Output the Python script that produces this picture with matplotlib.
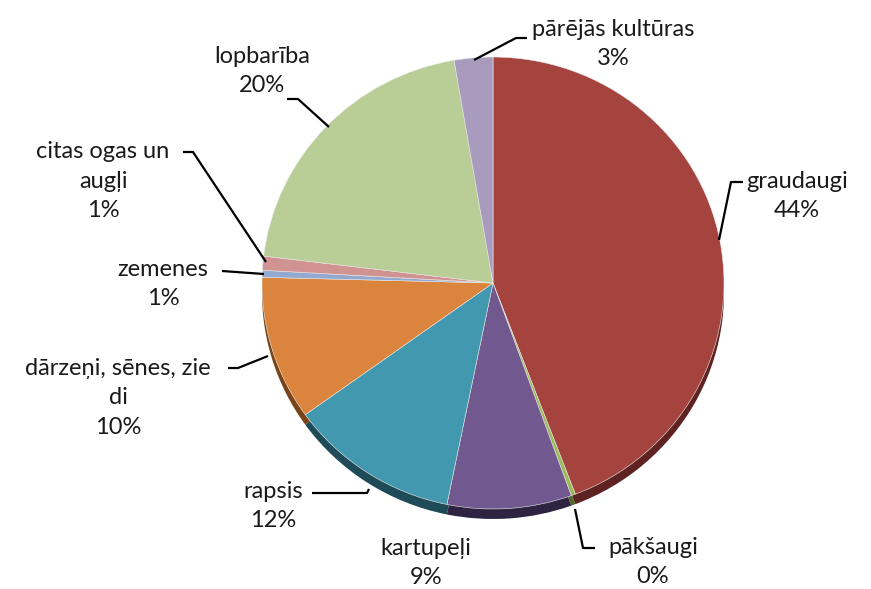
import numpy as np
import matplotlib.pyplot as plt

# slice data (clockwise from the top)
names = ["graudaugi", "pākšaugi", "kartupeļi", "rapsis", "dārzeņi, sēnes, zie\ndi",
         "zemenes", "citas ogas un\naugļi", "lopbarība", "pārējās kultūras"]
values = [44.2, 0.3, 8.7, 11.9, 10.3, 0.5, 1.0, 20.4, 2.7]
pct_labels = ["44%", "0%", "9%", "12%", "10%", "1%", "1%", "20%", "3%"]
colors = ["#A5443F", "#9BBB59", "#71588F", "#4198AF", "#DB843D",
          "#93A9CF", "#D19392", "#B9CD96", "#A99BBD"]
side_colors = ["#5E2221", "#4F6A28", "#2E2340", "#1E4B57", "#7A4419",
               "#4B5E80", "#7A4B4A", "#66784A", "#5C5070"]

W, H = 871, 589
fig = plt.figure(figsize=(W / 100, H / 100), dpi=100)

# pie axes (slightly squashed ellipse)
cx, cy, rx, ry = 493, 283, 231, 226
ax = fig.add_axes([(cx - rx) / W, (H - cy - ry - 14) / H, 2 * rx / W, (2 * ry + 14) / H])
depth = 10 / ry
ax.pie(values, colors=side_colors, startangle=90, counterclock=False,
       center=(0, -depth), radius=1, wedgeprops=dict(linewidth=0))
ax.pie(values, colors=colors, startangle=90, counterclock=False,
       center=(0, 0), radius=1, wedgeprops=dict(edgecolor="#eeeeee", linewidth=0.4))
ax.set_aspect("auto")
ax.set_xlim(-1, 1)
ax.set_ylim(-1 - 14 / ry, 1)
ax.axis("off")

# overlay in pixel coordinates for labels and leader lines
ov = fig.add_axes([0, 0, 1, 1], zorder=5)
ov.set_xlim(0, W)
ov.set_ylim(H, 0)
ov.axis("off")

label_pos = [(797, 196), (653, 562), (426, 563), (273, 506), (118, 398),
             (163, 284), (103, 181), (262, 71), (613, 44)]
leaders = [
    [(743, 182), (731, 182), (719, 240)],
    [(595, 548), (583, 548), (575, 509)],
    None,
    [(312, 493), (367, 493), (369, 489)],
    [(228, 368), (238, 368), (268, 356)],
    [(222, 271), (264, 274)],
    [(183, 152), (193, 152), (266, 262)],
    [(287, 99), (298, 99), (329, 127)],
    [(527, 38), (516, 38), (474, 60)],
]

for name, pct, (x, y), ld in zip(names, pct_labels, label_pos, leaders):
    ov.text(x, y, name + "\n" + pct, ha="center", va="center", fontsize=17,
            family="Lato", color="#1a1a1a", linespacing=1.5)
    if ld is not None:
        xs, ys = zip(*ld)
        ov.plot(xs, ys, color="black", lw=1.6, solid_capstyle="butt")

fig.savefig("out.png", dpi=100, facecolor="white")
